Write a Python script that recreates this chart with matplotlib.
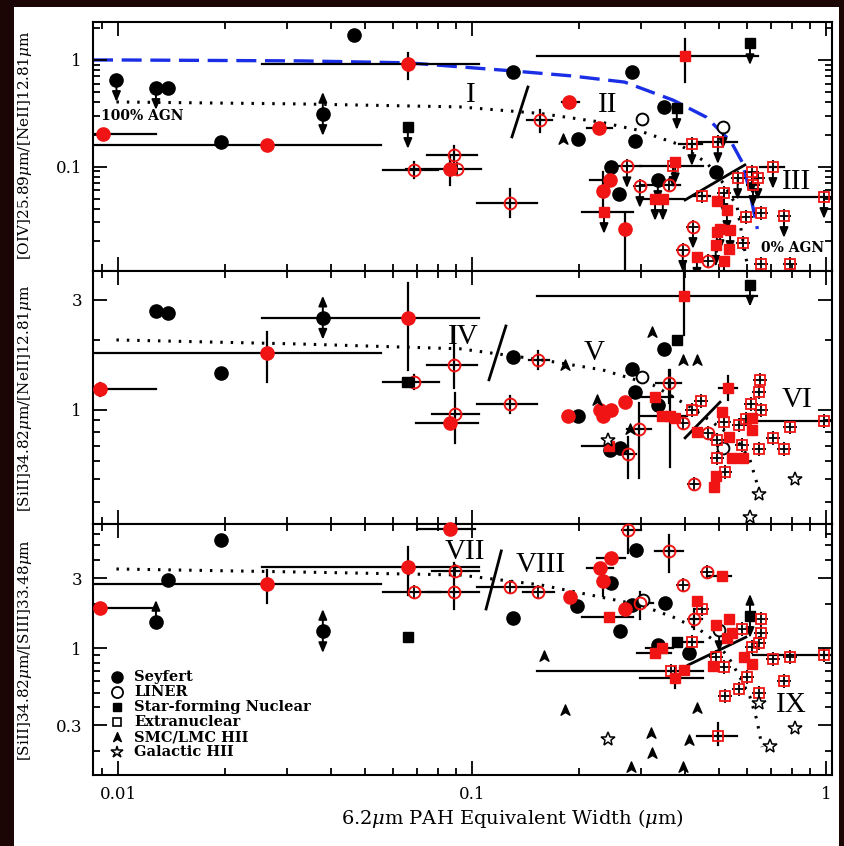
import matplotlib.pyplot as plt
from matplotlib.path import Path
from matplotlib.patches import Rectangle
from matplotlib.ticker import FixedLocator, FixedFormatter, NullFormatter
import numpy as np

plt.rcParams['font.family'] = 'DejaVu Serif'
plt.rcParams['mathtext.fontset'] = 'dejavuserif'

# ---------------- data ----------------
# point tuples: (x, y, (xlo, xhi) or None, (ylo, yhi) or None, limit)
# limit: 'd' upper limit, 'u' lower limit, 'b' both

# model curves
mix_x = [0.0085, 0.01, 0.033, 0.066, 0.13, 0.19, 0.27, 0.37, 0.46, 0.54, 0.58, 0.61, 0.64]
mix_y = [1.0, 1.0, 0.98, 0.94, 0.79, 0.71, 0.62, 0.42, 0.29, 0.17, 0.11, 0.057, 0.026]

trend1_x = [0.0099, 0.0327, 0.0925, 0.156, 0.230, 0.292, 0.387, 0.461, 0.512, 0.561, 0.598]
trend1_y = [0.404, 0.387, 0.363, 0.315, 0.262, 0.221, 0.160, 0.108, 0.0703, 0.0419, 0.0125]
trend2_x = [0.0099, 0.0327, 0.0925, 0.156, 0.234, 0.325, 0.413, 0.480, 0.561, 0.610, 0.638]
trend2_y = [2.01, 1.93, 1.84, 1.65, 1.49, 1.28, 1.03, 0.879, 0.741, 0.607, 0.482]
trend3_x = [0.0099, 0.0327, 0.0925, 0.156, 0.202, 0.298, 0.370, 0.441, 0.492, 0.536,
            0.571, 0.610, 0.638, 0.660]
trend3_y = [3.46, 3.30, 3.15, 2.70, 2.38, 1.97, 1.63, 1.33, 1.09, 0.832, 0.638, 0.467,
            0.325, 0.213]

# region boundaries (x0, y0, x1, y1)
bounds1 = [(0.1297, 0.190, 0.1439, 0.558), (0.400, 0.0487, 0.590, 0.1037)]
bounds2 = [(0.1117, 1.35, 0.1247, 2.31), (0.400, 0.756, 0.502, 1.08)]
bounds3 = [(0.1096, 1.85, 0.121, 4.59), (0.408, 0.769, 0.594, 1.19)]

regions1 = [('I', 0.0995, 0.47), ('II', 0.242, 0.379), ('III', 0.828, 0.072)]
regions2 = [('IV', 0.0944, 2.07), ('V', 0.222, 1.77), ('VI', 0.828, 1.10)]
regions3 = [('VII', 0.0955, 4.52), ('VIII', 0.156, 3.69), ('IX', 0.80, 0.411)]

# ---- [OIV]/[NeII] ----
p1_sey_k = [(0.0464, 1.71), (0.0099, 0.65, None, None, 'd'), (0.0128, 0.547, None, None, 'd'),
            (0.0138, 0.547), (0.0195, 0.17), (0.0379, 0.312, None, None, 'b'),
            (0.1305, 0.772), (0.283, 0.772), (0.348, 0.363), (0.199, 0.182), (0.289, 0.174),
            (0.247, 0.0994), (0.260, 0.0555), (0.335, 0.075, None, None, 'd'), (0.488, 0.089)]
p1_sey_r = [(0.0091, 0.202, (0.005, 0.0128), (0.19, 0.215)),
            (0.0264, 0.16, (0.005, 0.0553), (0.146, 0.175)),
            (0.0659, 0.918, (0.0256, 0.105), (0.66, 1.16)),
            (0.0867, 0.095, (0.065, 0.106), (0.067, 0.125)),
            (0.188, 0.404, (0.18, 0.20)), (0.229, 0.231, (0.211, 0.249)),
            (0.245, 0.075, (0.215, 0.255)), (0.234, 0.0592, None, (0.042, 0.089)),
            (0.271, 0.026, None, (0.005, 0.0371))]
p1_lin_k = [(0.302, 0.280), (0.512, 0.236, None, None, 'd')]
p1_lin_r = [(0.0686, 0.093, (0.0559, 0.0801), (0.078, 0.11)),
            (0.0889, 0.129, (0.0746, 0.1033), (0.11, 0.155)),
            (0.0906, 0.095),
            (0.128, 0.0457, (0.1034, 0.153), (0.034, 0.062)),
            (0.156, 0.274, (0.143, 0.168), (0.211, 0.340)),
            (0.274, 0.101, (0.25, 0.30), None, 'd'), (0.298, 0.0659, None, None, 'd'),
            (0.360, 0.0674, (0.298, 0.386)), (0.421, 0.0272, None, None, 'd'),
            (0.394, 0.0166, None, None, 'd'), (0.464, 0.0131)]
p1_sfn_k = [(0.0659, 0.236, None, None, 'd'), (0.610, 1.44, None, None, 'd'),
            (0.379, 0.355, None, None, 'd')]
p1_sfn_r = [(0.400, 1.09, (0.153, 0.643), (0.62, 1.57)),
            (0.236, 0.0376, (0.205, 0.285), None, 'd'),
            (0.329, 0.0498, (0.300, 0.396), None, 'd'), (0.346, 0.0498, None, None, 'd'),
            (0.375, 0.11, None, None, 'd'), (0.492, 0.0477), (0.525, 0.0393, None, None, 'd'),
            (0.536, 0.0255, None, None, 'd'), (0.492, 0.0243, None, None, 'd'),
            (0.432, 0.0143, None, None, 'd'), (0.515, 0.0131, None, None, 'd'),
            (0.532, 0.0169), (0.488, 0.0185, None, None, 'd'), (0.502, 0.026, None, None, 'd')]
p1_ext_r = [(0.418, 0.163, (0.385, 0.446), None, 'd'), (0.495, 0.170, (0.432, 0.561), None, 'd'),
            (0.370, 0.1016, (0.298, 0.45), None, 'd'), (0.446, 0.0531, (0.42, 0.47)),
            (0.515, 0.0567, None, None, 'd'), (0.563, 0.0783, None, None, 'd'),
            (0.618, 0.089, None, None, 'd'), (0.642, 0.0783, None, None, 'd'),
            (0.708, 0.0994, (0.65, 0.76), None, 'd'), (0.987, 0.052, (0.546, 1.05), None, 'd'),
            (0.622, 0.0674, None, None, 'd'), (0.594, 0.0338), (0.655, 0.0368),
            (0.761, 0.0345, None, None, 'd'), (0.583, 0.0193), (0.655, 0.0123), (0.791, 0.0123)]
p1_smc = [(0.1807, 0.182)]
p1_gal = []

# ---- [SiII]/[NeII] ----
p2_sey_k = [(0.0128, 2.69), (0.0138, 2.64), (0.0195, 1.45), (0.0379, 2.51, None, None, 'b'),
            (0.1305, 1.70), (0.348, 1.84), (0.283, 1.51), (0.289, 1.19), (0.335, 1.05),
            (0.199, 0.94), (0.245, 0.670), (0.262, 0.684)]
p2_sey_r = [(0.0089, 1.23, (0.005, 0.0128), (1.15, 1.31)),
            (0.0264, 1.77, (0.005, 0.0553), (1.32, 2.18)),
            (0.0659, 2.51, (0.0256, 0.105), (1.49, 3.56)),
            (0.0867, 0.878, (0.0695, 0.104)),
            (0.187, 0.94), (0.230, 1.0), (0.247, 1.0), (0.234, 0.94), (0.271, 1.08)]
p2_lin_k = [(0.302, 1.39), (0.512, 0.684)]
p2_lin_r = [(0.0686, 1.32, (0.056, 0.0805), (1.23, 1.42)),
            (0.0889, 1.57, (0.0746, 0.1033), (1.25, 2.29)),
            (0.0895, 0.96, (0.077, 0.105), (0.719, 1.185)),
            (0.128, 1.06, (0.1033, 0.153), (0.97, 1.15)),
            (0.154, 1.65, (0.145, 0.165), (1.5, 1.8)),
            (0.360, 1.31, (0.33, 0.39), (1.07, 1.49)), (0.394, 0.879),
            (0.296, 0.828, (0.275, 0.32), (0.507, 1.07)),
            (0.276, 0.644, (0.262, 0.290), (0.507, 0.764)), (0.424, 0.477), (0.464, 0.795)]
p2_sfn_k = [(0.0655, 1.32), (0.610, 3.49, None, None, 'd'), (0.379, 2.01)]
p2_sfn_r = [(0.397, 3.12, (0.153, 0.638), (2.11, 5.0)), (0.329, 1.14, (0.293, 0.37)),
            (0.344, 0.94, (0.298, 0.405)), (0.362, 0.94, None, (0.566, 1.49)), (0.374, 0.92),
            (0.244, 0.698, (0.205, 0.276)), (0.529, 1.25, (0.50, 0.56), (1.1, 1.4)),
            (0.432, 0.803), (0.508, 0.980), (0.532, 0.764), (0.541, 0.619), (0.583, 0.619),
            (0.489, 0.517), (0.483, 0.463), (0.618, 0.923), (0.618, 0.819)]
p2_ext_r = [(0.444, 1.09), (0.418, 1.0), (0.515, 0.887), (0.492, 0.741), (0.579, 0.705),
            (0.492, 0.619), (0.519, 0.538), (0.568, 0.861), (0.594, 0.914), (0.614, 1.06),
            (0.647, 1.19), (0.651, 1.35), (0.655, 0.996), (0.647, 0.677), (0.708, 0.756),
            (0.791, 0.844), (0.761, 0.677), (0.987, 0.896, (0.622, 1.04))]
p2_smc = [(0.322, 2.18), (0.394, 1.65), (0.432, 1.65), (0.1833, 1.57), (0.225, 1.10),
          (0.279, 0.828)]
p2_gal = [(0.242, 0.741), (0.647, 0.432), (0.817, 0.502), (0.610, 0.343)]

# ---- [SiII]/[SIII] ----
p3_sey_k = [(0.0128, 1.51, None, None, 'u'), (0.0138, 2.92), (0.0195, 5.45),
            (0.0379, 1.31, None, None, 'b'), (0.290, 4.66), (0.247, 2.78), (0.1305, 1.61),
            (0.198, 1.94), (0.262, 1.31), (0.283, 1.97), (0.351, 2.03), (0.410, 0.93),
            (0.335, 1.05)]
p3_sey_r = [(0.0089, 1.88, (0.005, 0.0128)),
            (0.0264, 2.74, (0.005, 0.0553), (2.03, 3.41)),
            (0.0659, 3.57, (0.0256, 0.105), (2.30, 4.89)),
            (0.0867, 6.50, (0.07, 0.102)),
            (0.247, 4.11, (0.226, 0.27)), (0.230, 3.52, (0.211, 0.25)),
            (0.234, 2.87, None, (2.27, 3.25)), (0.1897, 2.23), (0.271, 1.85)]
p3_lin_k = [(0.304, 2.13), (0.499, 1.33, None, None, 'd')]
p3_lin_r = [(0.0686, 2.42, (0.056, 0.081)),
            (0.0889, 2.42, (0.0746, 0.105), (1.85, 3.80)),
            (0.0895, 3.36, (0.077, 0.105)),
            (0.128, 2.62, (0.1033, 0.156)), (0.154, 2.42, (0.139, 0.17)),
            (0.276, 6.38, (0.265, 0.30), (4.45, 7.5)),
            (0.360, 4.59, (0.329, 0.394), (3.3, 5.9)), (0.461, 3.30), (0.394, 2.70),
            (0.298, 2.03, (0.276, 0.324), (1.58, 2.42)),
            (0.424, 1.58, (0.41, 0.446), (1.35, 1.85))]
p3_sfn_k = [(0.0659, 1.19), (0.610, 1.66, None, None, 'b'), (0.379, 1.10)]
p3_sfn_r = [(0.244, 1.63, (0.205, 0.285)), (0.508, 3.10, (0.461, 0.54)), (0.432, 2.10),
            (0.489, 1.44), (0.532, 1.58), (0.541, 1.27), (0.525, 1.17),
            (0.344, 1.0, (0.31, 0.37)), (0.329, 0.93, (0.293, 0.365)), (0.480, 0.759),
            (0.587, 0.874), (0.618, 0.78), (0.397, 0.713),
            (0.374, 0.627, (0.298, 0.45), (0.537, 0.746))]
p3_ext_r = [(0.446, 1.85), (0.579, 1.35), (0.655, 1.58), (0.655, 1.27), (0.647, 1.09),
            (0.618, 1.02), (0.418, 1.10, (0.385, 0.45)), (0.489, 0.874), (0.515, 0.745),
            (0.708, 0.845), (0.791, 0.874), (0.987, 0.905, (0.622, 1.04)),
            (0.365, 0.70, (0.153, 0.45)), (0.598, 0.638), (0.761, 0.60), (0.568, 0.53),
            (0.519, 0.474), (0.647, 0.497), (0.495, 0.254, (0.432, 0.561), (0.22, 0.31))]
p3_smc = [(0.1597, 0.887), (0.1833, 0.383), (0.432, 0.394), (0.320, 0.267), (0.410, 0.239),
          (0.322, 0.195), (0.281, 0.157), (0.394, 0.157)]
p3_gal = [(0.647, 0.426), (0.817, 0.288), (0.695, 0.217), (0.242, 0.242)]

legend_labels = ['Seyfert', 'LINER', 'Star-forming Nuclear', 'Extranuclear',
                 'SMC/LMC HII', 'Galactic HII']

# ---------------- styles ----------------
RED = '#f01414'
arrowhead = Path([(0, 1), (0.8, -0.85), (0, -0.35), (-0.8, -0.85), (0, 1)],
                 [Path.MOVETO, Path.LINETO, Path.LINETO, Path.LINETO, Path.CLOSEPOLY])

styles = {
    'sey_k': dict(marker='o', ms=9.5, mfc='k', mec='k'),
    'sey_r': dict(marker='o', ms=9.5, mfc=RED, mec=RED),
    'lin_k': dict(marker='o', ms=8.5, mfc='white', mec='k', mew=1.4),
    'lin_r': dict(marker='o', ms=8.5, mfc='none', mec=RED, mew=1.4),
    'sfn_k': dict(marker='s', ms=6.5, mfc='k', mec='k'),
    'sfn_r': dict(marker='s', ms=6.5, mfc=RED, mec=RED),
    'ext_r': dict(marker='s', ms=7, mfc='none', mec=RED, mew=1.3),
    'smc': dict(marker=arrowhead, ms=8, mfc='k', mec='k'),
    'gal': dict(marker='*', ms=10, mfc='white', mec='k', mew=1.1),
}

fig = plt.figure(figsize=(8.45, 8.46), dpi=100, facecolor='#1c0505')
fig.add_artist(Rectangle((14 / 845, 0), 825 / 845, 1 - 7 / 846,
                         transform=fig.transFigure, fc='white', ec='none', zorder=-5))

L, W = 93 / 845, 739 / 845
ax1 = fig.add_axes([L, 1 - 271 / 846, W, 249 / 846])
ax2 = fig.add_axes([L, 1 - 524 / 846, W, 253 / 846])
ax3 = fig.add_axes([L, 1 - 775 / 846, W, 251 / 846])
axes = [ax1, ax2, ax3]
ylims = [(0.0105, 2.27), (0.32, 4.0), (0.1375, 7.0)]


def px_per_decade(ax):
    ylo, yhi = ax.get_ylim()
    h = ax.get_position().height * fig.get_figheight() * fig.dpi
    return h / np.log10(yhi / ylo)


def arrow(ax, x, y, sign, length=22):
    y2 = y * 10 ** (sign * length / px_per_decade(ax))
    ax.annotate('', xy=(x, y2), xytext=(x, y), annotation_clip=False, zorder=4,
                arrowprops=dict(arrowstyle='-|>,head_length=0.6,head_width=0.25',
                                color='k', lw=1.4, shrinkA=0, shrinkB=0))


def draw(ax, pts, key):
    st = styles[key]
    for p in pts:
        x, y, xe, ye, lim = tuple(p) + (None, None, '')[len(p) - 2:]
        if xe:
            ax.plot(xe, [y, y], color='k', lw=1.6, zorder=2)
        if ye:
            ax.plot([x, x], ye, color='k', lw=1.6, zorder=2)
        if lim in ('d', 'b'):
            arrow(ax, x, y, -1)
        if lim in ('u', 'b'):
            arrow(ax, x, y, 1)
        if key in ('lin_r', 'ext_r'):
            ax.plot(x, y, marker='+', ms=10, mec='k', mew=1.3, zorder=3)
        ax.plot(x, y, ls='none', zorder=5, clip_on=False, **st)


panels = [
    (p1_sey_k, p1_sey_r, p1_lin_k, p1_lin_r, p1_sfn_k, p1_sfn_r, p1_ext_r, p1_smc, p1_gal),
    (p2_sey_k, p2_sey_r, p2_lin_k, p2_lin_r, p2_sfn_k, p2_sfn_r, p2_ext_r, p2_smc, p2_gal),
    (p3_sey_k, p3_sey_r, p3_lin_k, p3_lin_r, p3_sfn_k, p3_sfn_r, p3_ext_r, p3_smc, p3_gal),
]
keys = ['sey_k', 'sey_r', 'lin_k', 'lin_r', 'sfn_k', 'sfn_r', 'ext_r', 'smc', 'gal']
trends = [(trend1_x, trend1_y), (trend2_x, trend2_y), (trend3_x, trend3_y)]
bounds = [bounds1, bounds2, bounds3]
regions = [regions1, regions2, regions3]
yticks = [([0.1, 1], ['0.1', '1']), ([1, 3], ['1', '3']), ([0.3, 1, 3], ['0.3', '1', '3'])]

for i, ax in enumerate(axes):
    ax.set_xscale('log')
    ax.set_yscale('log')
    ax.set_xlim(0.0085, 1.04)
    ax.set_ylim(*ylims[i])
    for s in ax.spines.values():
        s.set_linewidth(1.5)

    ax.xaxis.set_major_locator(FixedLocator([0.01, 0.1, 1]))
    ax.xaxis.set_minor_locator(FixedLocator([k * 10.0 ** e for e in (-3, -2, -1) for k in range(2, 10)]))
    ax.xaxis.set_minor_formatter(NullFormatter())
    if i == 2:
        ax.xaxis.set_major_formatter(FixedFormatter(['0.01', '0.1', '1']))
    else:
        ax.xaxis.set_major_formatter(NullFormatter())
    yt, yl = yticks[i]
    ax.yaxis.set_major_locator(FixedLocator(yt))
    ax.yaxis.set_major_formatter(FixedFormatter(yl))
    minors = [k * 10.0 ** e for e in (-2, -1, 0) for k in range(1, 10)]
    ax.yaxis.set_minor_locator(FixedLocator([m for m in minors if m not in yt]))
    ax.yaxis.set_minor_formatter(NullFormatter())
    ax.tick_params(which='both', direction='in', top=True, right=True, width=1.3,
                   labelsize=12, pad=8)
    ax.tick_params(which='major', length=10)
    ax.tick_params(which='minor', length=5)

    tx, ty = trends[i]
    ax.plot(tx, ty, color='k', lw=2.2, ls=(0, (0.8, 2.6)), zorder=1)
    for x0, y0, x1, y1 in bounds[i]:
        ax.plot([x0, x1], [y0, y1], color='k', lw=2, zorder=1)
    for txt, x, y in regions[i]:
        ax.text(x, y, txt, family='Liberation Serif', fontsize=21, ha='center', va='center')

    for pts, key in zip(panels[i], keys):
        draw(ax, pts, key)

ax1.plot(mix_x, mix_y, color='#1a2ee6', lw=2.4, ls=(0, (6, 2.6)), zorder=1)
ax1.text(0.0117, 0.30, '100% AGN', fontsize=10, weight='bold', ha='center', va='center')
ax1.text(0.807, 0.0173, '0% AGN', fontsize=10, weight='bold', ha='center', va='center')

# legend, drawn by hand in the lower left of the bottom panel
leg_keys = [
    dict(marker='o', ms=8, mfc='k', mec='k'),
    dict(marker='o', ms=8, mfc='white', mec='k', mew=1.3),
    dict(marker='s', ms=5.5, mfc='k', mec='k'),
    dict(marker='s', ms=6, mfc='white', mec='k', mew=1.2),
    dict(marker=arrowhead, ms=7, mfc='k', mec='k'),
    dict(marker='*', ms=9, mfc='white', mec='k', mew=1.1),
]
for j, (lab, st) in enumerate(zip(legend_labels, leg_keys)):
    yy = 0.390 - j * 0.0598
    ax3.plot(0.0325, yy, transform=ax3.transAxes, ls='none', **st)
    ax3.text(0.056, yy, lab, transform=ax3.transAxes, fontsize=10.5, weight='bold',
             va='center', ha='left')

fig.text(512 / 845, 1 - 818 / 846, r'6.2$\mu$m PAH Equivalent Width ($\mu$m)',
         fontsize=14, ha='center', va='center')
ylabels = [r'[OIV]25.89$\mu$m/[NeII]12.81$\mu$m', r'[SiII]34.82$\mu$m/[NeII]12.81$\mu$m',
           r'[SiII]34.82$\mu$m/[SIII]33.48$\mu$m']
for lab, yc in zip(ylabels, [145, 398, 650]):
    fig.text(25 / 845, 1 - yc / 846, lab, rotation=90, fontsize=11, ha='center', va='center')

fig.savefig('out.png', dpi=100, facecolor=fig.get_facecolor())
